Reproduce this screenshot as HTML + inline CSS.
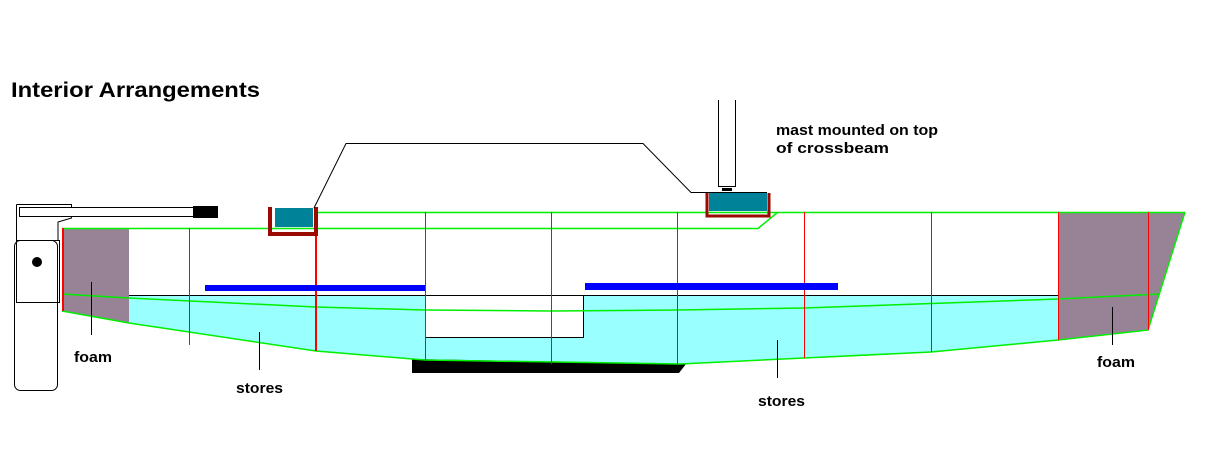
<!DOCTYPE html>
<html><head><style>body{margin:0;background:#fff}svg{display:block}</style></head><body>
<svg width="1205" height="450" viewBox="0 0 1205 450" xmlns="http://www.w3.org/2000/svg" font-family="Liberation Sans, sans-serif">
<rect width="1205" height="450" fill="#fff"/>
<text x="11" y="97" font-size="21" font-weight="bold" textLength="249" lengthAdjust="spacingAndGlyphs">Interior Arrangements</text>
<g font-size="14.5" font-weight="bold">
<text x="776" y="135" textLength="162" lengthAdjust="spacingAndGlyphs">mast mounted on top</text>
<text x="776" y="153" textLength="113" lengthAdjust="spacingAndGlyphs">of crossbeam</text>
</g>
<!-- cyan stores -->
<polygon points="129,295 1058,295 1058,340 931,352 804,358 680,364 425,360 316,351 129,323" fill="#99ffff"/>
<rect x="425.5" y="295.5" width="158" height="42" fill="#fff" stroke="#000" stroke-width="1"/>
<!-- foam -->
<polygon points="62,228 129,228 129,323 62,311" fill="#988396"/>
<polygon points="1058,212 1185,212 1148,330 1058,340" fill="#988396"/>
<!-- keel -->
<polygon points="412,359 686,364 679,373 412,373" fill="#000"/>
<!-- green lines -->
<g stroke="#00ee00" stroke-width="1.5" fill="none">
<line x1="316" y1="212.5" x2="1185" y2="212.5"/>
<polyline points="62,228.5 758,228.5 778,212"/>
<polyline points="62,311 129,323 316,351 425,360 680,364 804,358 931,352 1058,340 1148,330 1185,212"/>
<polyline points="62,294 129,298 316,307 425,310 551,311 677,310 804,308 1058,299 1160,294"/>
</g>
<rect x="129" y="295" width="929" height="1" fill="#000"/>
<!-- red verticals -->
<g fill="#ff0000">
<rect x="62" y="228" width="2" height="83"/>
<rect x="189" y="228" width="1" height="117"/>
<rect x="315" y="212" width="2" height="139"/>
<rect x="425" y="212" width="1" height="148"/>
<rect x="551" y="212" width="1" height="152"/>
<rect x="677" y="212" width="1" height="152"/>
<rect x="804" y="212" width="1" height="146"/>
<rect x="931" y="212" width="1" height="140"/>
<rect x="1058" y="212" width="1" height="128"/>
<rect x="1148" y="212" width="1" height="118"/>
</g>
<!-- blue bars -->
<rect x="205" y="285" width="220" height="6" fill="#0000ff"/>
<rect x="585" y="283" width="253" height="7" fill="#0000ff"/>
<!-- crossbeams -->
<path d="M270,207 V234 H316 V207" fill="none" stroke="#9a0a00" stroke-width="4"/>
<rect x="275" y="208" width="38" height="19" fill="#008299"/>
<path d="M707,193 V216 H769 V193" fill="none" stroke="#9a0a00" stroke-width="3"/>
<rect x="709" y="192" width="58" height="19" fill="#008299"/>
<!-- cabin line -->
<polyline points="314,208 346,143.5 643,143.5 691,192.5 767,192.5" fill="none" stroke="#000" stroke-width="1"/>
<!-- mast -->
<path d="M718.5,100 V186.5 H735.5 V100" fill="#fff" stroke="#000" stroke-width="1"/>
<rect x="722" y="188" width="10" height="3" fill="#000"/>
<!-- rudder / tiller -->
<path d="M16.5,204.5 H71.5 V218 L58,222 V240" fill="none" stroke="#000"/>
<line x1="16.5" y1="204.5" x2="16.5" y2="240" stroke="#000"/>
<rect x="19.5" y="207.5" width="175" height="9" fill="#fff" stroke="#000"/>
<rect x="193" y="206" width="25" height="12" fill="#000"/>
<rect x="14.5" y="240.5" width="43" height="150" rx="6" fill="#fff" stroke="#000"/>
<rect x="16.5" y="240.5" width="43" height="62" fill="none" stroke="#000"/>
<circle cx="37" cy="262" r="5" fill="#000"/>
<!-- leaders -->
<g fill="#000">
<rect x="91" y="282" width="1" height="53"/>
<rect x="259" y="332" width="1" height="38"/>
<rect x="777" y="340" width="1" height="38"/>
<rect x="1112" y="307" width="1" height="38"/>
</g>
<g font-size="14.5" font-weight="bold">
<text x="74" y="362" textLength="38" lengthAdjust="spacingAndGlyphs">foam</text>
<text x="236" y="393" textLength="47" lengthAdjust="spacingAndGlyphs">stores</text>
<text x="758" y="406" textLength="47" lengthAdjust="spacingAndGlyphs">stores</text>
<text x="1097" y="367" textLength="38" lengthAdjust="spacingAndGlyphs">foam</text>
</g>
</svg>
</body></html>
